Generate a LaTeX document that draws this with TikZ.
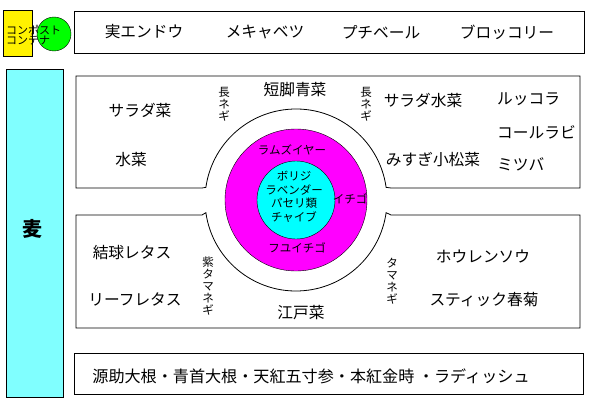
\documentclass[tikz,border=0pt]{standalone}
\usepackage{fontspec}
\setmainfont{Noto Sans CJK JP}
\usetikzlibrary{calc}
\definecolor{wheat}{RGB}{128,255,255}
\definecolor{herb}{RGB}{0,255,255}
\definecolor{berry}{RGB}{255,0,255}
\definecolor{bin}{RGB}{0,255,0}
\begin{document}
\begin{tikzpicture}[x=1pt,y=1pt,
    big/.style={inner sep=0pt,font=\fontsize{15.7}{18}\selectfont},
    small/.style={inner sep=0pt,align=center,font=\fontsize{11.5}{12.2}\selectfont},
    bed/.style={draw,line width=0.8pt}]
  \useasboundingbox (0,0) rectangle (600,400);
  \coordinate (C) at (296,200);

  % compost
  \filldraw[fill=yellow,draw=black] (3,344) rectangle (32,390);
  \filldraw[fill=bin,draw=black] (54,366) circle (17);
  \node[inner sep=0pt,align=left,anchor=west,font=\fontsize{11}{10.5}\selectfont] (K) at (6,365) {コンポスト\\コンテナ};

  % wheat
  \filldraw[fill=wheat,draw=black,line width=0.8pt] (6,3) rectangle (63,331);
  \node[inner sep=0pt,font=\fontsize{20}{22}\selectfont\bfseries] (W) at (32,171) {麦};

  % top bed
  \draw[bed] (74,347) rectangle (584,389);
  \node[big] (T1) at (144,368) {実エンドウ};
  \node[big] (T2) at (265,368) {メキャベツ};
  \node[big] (T3) at (381,368) {プチベール};
  \node[big] (T4) at (507,368) {ブロッコリー};

  % middle bed
  \draw[bed] (76,324) -- (580,324) -- (580,212) -- (391,212)
    -- ($(C)+(8:91)$) arc[start angle=8,end angle=172,radius=91]
    -- (202,212) -- (76,212) -- cycle;
  \node[big] (M1) at (140,290) {サラダ菜};
  \node[big] (M2) at (131,240) {水菜};
  \node[small] (M3) at (224,296) {長\\ネ\\ギ};
  \node[big] (M4) at (295,310) {短脚青菜};
  \node[small] (M5) at (366,296) {長\\ネ\\ギ};
  \node[big] (M6) at (423,300) {サラダ水菜};
  \node[big,anchor=west] (M7) at (497,301) {ルッコラ};
  \node[big,anchor=west] (M8) at (497,268) {コールラビ};
  \node[big] (M9) at (433,240) {みすぎ小松菜};
  \node[big,anchor=west] (M10) at (497,236) {ミツバ};

  % bottom bed
  \draw[bed] (76,185) -- (202,185)
    -- ($(C)+(188:91)$) arc[start angle=188,end angle=352,radius=91]
    -- (391,185) -- (580,185) -- (580,72) -- (76,72) -- cycle;
  \node[big] (B1) at (132,147) {結球レタス};
  \node[big] (B2) at (135,101) {リーフレタス};
  \node[small] (B3) at (208,114) {紫\\タ\\マ\\ネ\\ギ};
  \node[big] (B4) at (301,87) {江戸菜};
  \node[small] (B5) at (392,119) {タ\\マ\\ネ\\ギ};
  \node[big] (B6) at (483,143) {ホウレンソウ};
  \node[big] (B7) at (484,100) {スティック春菊};

  % herb circle
  \filldraw[fill=berry,draw=black] (C) circle (71);
  \filldraw[fill=herb,draw=black] (C) circle (39);
  \node[small] (H1) at (292,250) {ラムズイヤー};
  \node[small,font=\fontsize{11.5}{13.6}\selectfont] (H2) at (294,203) {ボリジ\\ラベンダー\\パセリ類\\チャイブ};
  \node[small] (H3) at (350,201) {イチゴ};
  \node[small] (H4) at (297,152) {フユイチゴ};

  % roots
  \draw[bed] (74,6) rectangle (583,47);
  \node[big,font=\fontsize{16.1}{18}\selectfont] (R) at (311,24) {源助大根・青首大根・天紅五寸参・本紅金時 ・ラディッシュ};
\end{tikzpicture}
\end{document}
